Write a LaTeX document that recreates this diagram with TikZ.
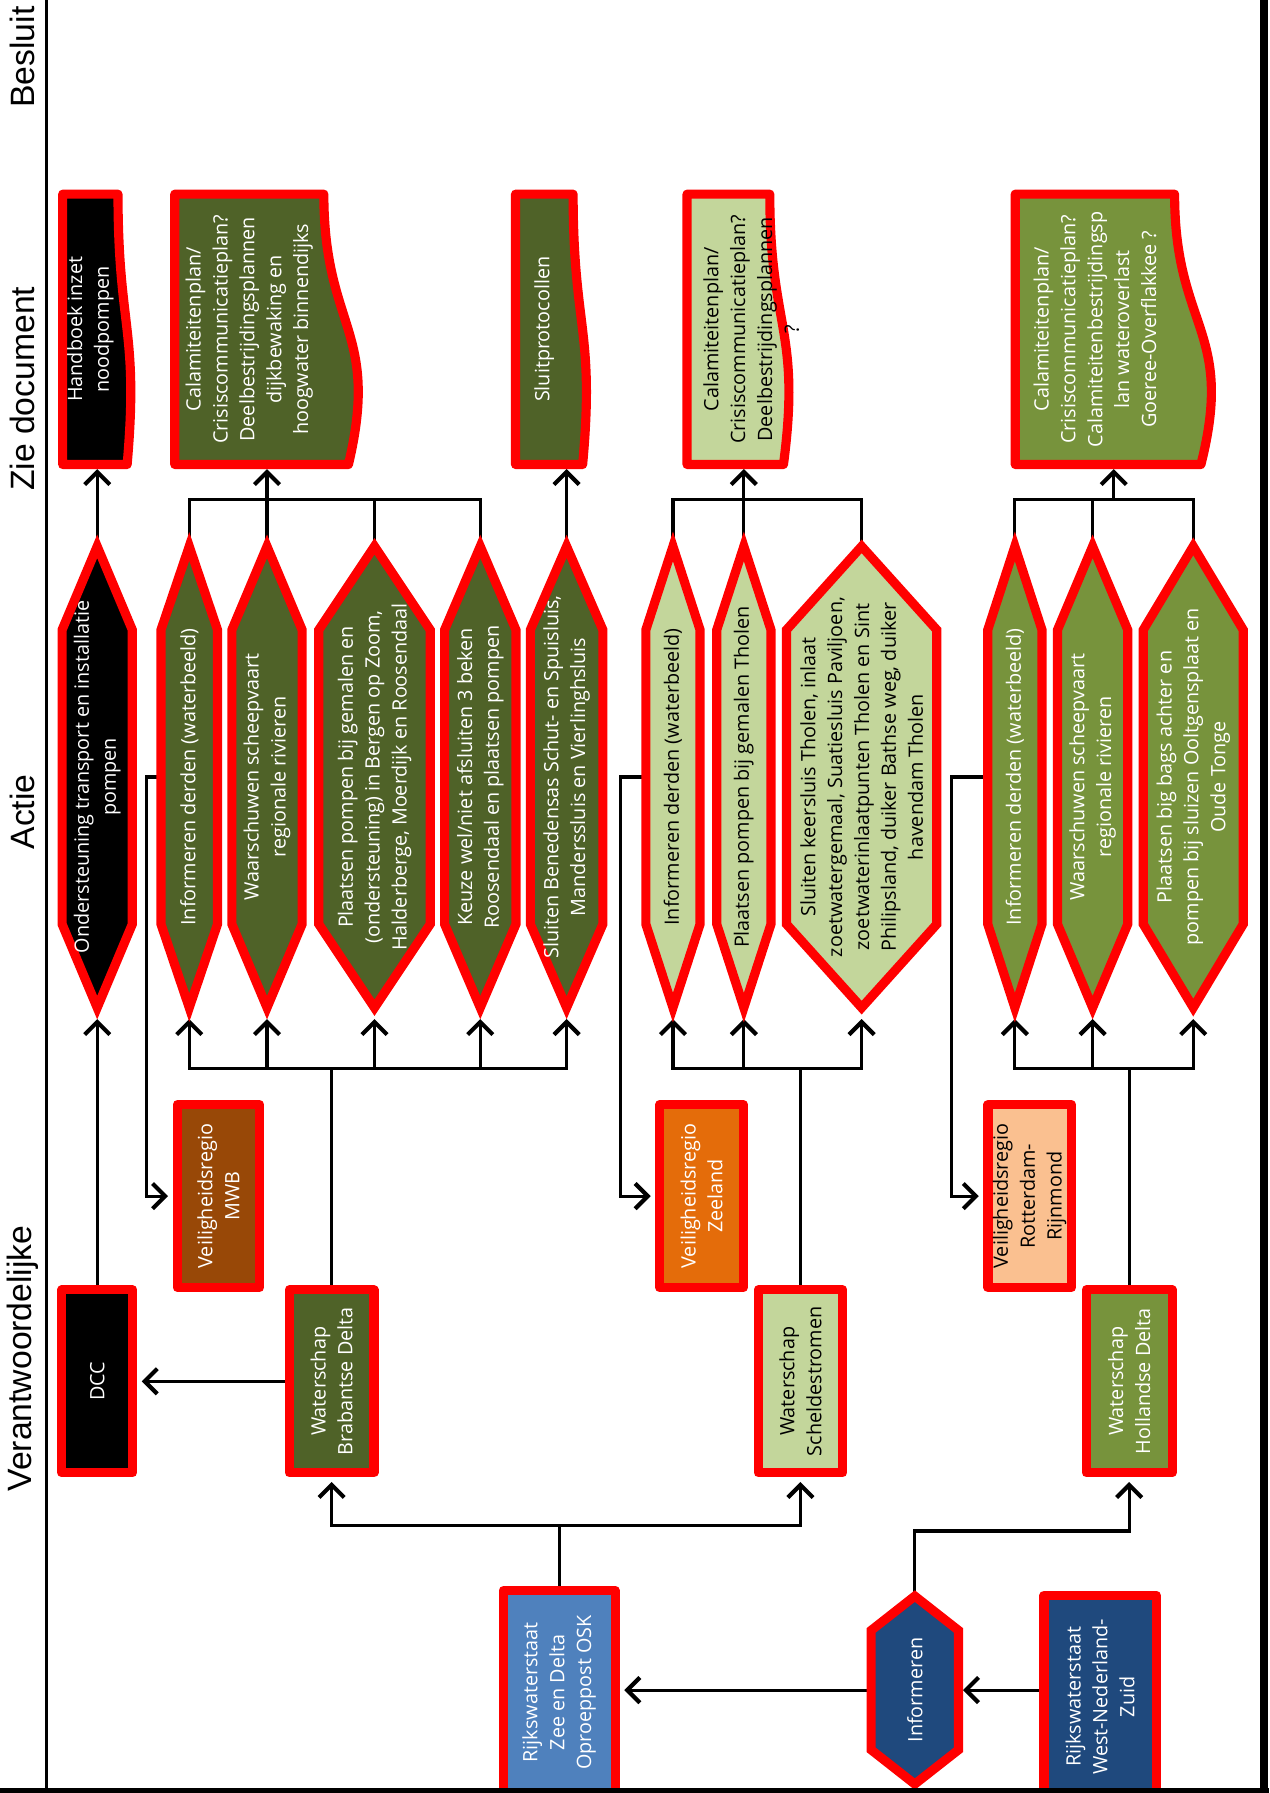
\documentclass[tikz,border=0pt]{standalone}
\usepackage{fontspec}
\setmainfont{Open Sans}
\newfontfamily\kopfont{Liberation Sans}
\usetikzlibrary{calc, backgrounds, arrows.meta}

\definecolor{rood}{HTML}{FF0000}
\definecolor{donkerolijf}{HTML}{4F6228}
\definecolor{olijf}{HTML}{77933C}
\definecolor{lichtgroen}{HTML}{C3D69B}
\definecolor{bruin}{HTML}{984807}
\definecolor{oranje}{HTML}{E46C0A}
\definecolor{perzik}{HTML}{FAC090}
\definecolor{rwsblauw}{HTML}{4F81BD}
\definecolor{donkerblauw}{HTML}{1F497D}

\newcommand{\vakfont}{\fontsize{17.3}{23.5}\selectfont}

\begin{document}
\begin{tikzpicture}[
    x=1pt, y=-1pt,
    every node/.style={inner sep=0pt, align=center, rotate=90},
    kop/.style={font=\kopfont\fontsize{29.5}{34}\selectfont},
    zeshoek/.style={minimum width=403pt, minimum height=#1, font=\vakfont, text=white},
    document/.style={minimum width=236pt, minimum height=#1, font=\vakfont, text=white},
    blok/.style={draw=rood, line width=8pt, line join=round, minimum width=160pt, minimum height=#1, font=\vakfont, text=white},
    rand/.style={draw=rood, line width=8pt},
    lijn/.style={line width=2.8pt},
    pijl/.style={lijn, shorten >=4pt, -{Straight Barb[length=11pt, width=22pt, line width=3.6pt]}}
  ]
  \useasboundingbox (0,0) rectangle (1110,1568);

  % ---------------- Kolomkoppen ----------------
  \node (kopBesluit) [kop] at (20,50) {Besluit};
  \node (kopDocument) [kop] at (20,340) {Zie document};
  \node (kopActie) [kop] at (20,710) {Actie};
  \node (kopVerantw) [kop] at (20,1188) {Verantwoordelijke};

  % ---------------- Zie document ----------------
  \node (d1) [document=48pt] at (79,288) {Handboek inzet\\noodpompen};
  \node (d2) [document=130pt] at (218,288) {Calamiteitenplan/\\Crisiscommunicatieplan?\\Deelbestrijdingsplannen\\dijkbewaking en\\hoogwater binnendijks};
  \node (d3) [document=50pt] at (476,288) {Sluitprotocollen};
  \node (d4) [document=72pt] at (637,288) {};
  \node (d4t) [font=\vakfont] at (657,288) {Calamiteitenplan/\\Crisiscommunicatieplan?\\Deelbestrijdingsplannen\\?};
  \node (d5) [document=139pt] at (957.5,288) {Calamiteitenplan/\\Crisiscommunicatieplan?\\Calamiteitenbestrijdingsp\\lan wateroverlast\\Goeree-Overflakkee ?};

  % ---------------- Acties ----------------
  \node (h1) [zeshoek=61pt] at (85,679.5) {Ondersteuning transport en installatie\\pompen};
  \node (h2) [zeshoek=49pt] at (165.5,679.5) {Informeren derden (waterbeeld)};
  \node (h3) [zeshoek=61pt] at (233.5,679.5) {Waarschuwen scheepvaart\\regionale rivieren};
  \node (h4) [zeshoek=97pt] at (327.5,679.5) {Plaatsen pompen bij gemalen en\\(ondersteuning) in Bergen op Zoom,\\Halderberge, Moerdijk en Roosendaal};
  \node (h5) [zeshoek=62pt] at (420,679.5) {Keuze wel/niet afsluiten 3 beken\\Roosendaal en plaatsen pompen};
  \node (h6) [zeshoek=63pt] at (495.5,679.5) {Sluiten Benedensas Schut- en Spuisluis,\\Manderssluis en Vierlinghsluis};
  \node (h7) [zeshoek=47pt, text=black] at (588.5,679.5) {Informeren derden (waterbeeld)};
  \node (h8) [zeshoek=47pt, text=black] at (650.5,679.5) {Plaatsen pompen bij gemalen Tholen};
  \node (h9) [zeshoek=131pt, text=black] at (753.5,679.5) {Sluiten keersluis Tholen, inlaat\\zoetwatergemaal, Suatiesluis Paviljoen,\\zoetwaterinlaatpunten Tholen en Sint\\Philipsland, duiker Bathse weg, duiker\\havendam Tholen};
  \node (h10) [zeshoek=47pt] at (887.5,679.5) {Informeren derden (waterbeeld)};
  \node (h11) [zeshoek=61pt] at (955.5,679.5) {Waarschuwen scheepvaart\\regionale rivieren};
  \node (h12) [zeshoek=87pt] at (1043.5,679.5) {Plaatsen big bags achter en\\pompen bij sluizen Ooltgensplaat en\\Oude Tonge};

  % ---------------- Verantwoordelijken ----------------
  \node (dcc) [blok=62pt, fill=black] at (85,1208) {DCC};
  \node (vrmwb) [blok=72pt, fill=bruin] at (191,1046) {Veiligheidsregio\\MWB};
  \node (wbd) [blok=74pt, fill=donkerolijf] at (290,1208) {Waterschap\\Brabantse Delta};
  \node (vrzee) [blok=73pt, fill=oranje] at (613.5,1046) {Veiligheidsregio\\Zeeland};
  \node (wss) [blok=74pt, fill=lichtgroen, text=black] at (700,1208) {Waterschap\\Scheldestromen};
  \node (vrrr) [blok=73pt, fill=perzik, text=black] at (900.5,1046) {Veiligheidsregio\\Rotterdam-\\Rijnmond};
  \node (whd) [blok=75pt, fill=olijf] at (987.5,1208) {Waterschap\\Hollandse Delta};
  \node (rwszd) [blok=98pt, fill=rwsblauw, minimum width=178pt] at (489,1480) {Rijkswaterstaat\\Zee en Delta\\Oproeppost OSK};
  \node (inf) [zeshoek=76pt, minimum width=164pt] at (800,1478) {Informeren};
  \node (rwswnz) [blok=98pt, fill=donkerblauw, minimum width=178pt] at (962,1484) {Rijkswaterstaat\\West-Nederland-\\Zuid};

  % ---------------- Verbindingen (onder de vormen) ----------------
  \begin{scope}[on background layer]
    % Brabantse Delta
    \draw[pijl, shorten >=10pt] (dcc.east) -- (h1.west);
    \draw[pijl] (h1.east) -- (h1.east |- d1.west);
    \draw[pijl] (wbd.north) -- (wbd.north -| dcc.south);
    \foreach \n in {h2,h3,h4,h5,h6}
      \draw[pijl, shorten >=10pt] (wbd.east) |- ([yshift=-53pt]\n.west) -- (\n.west);
    \foreach \n in {h2,h3,h4,h5}
      \draw[lijn] (\n.east) |- ([yshift=41pt]h3.east);
    \draw[pijl] ([yshift=41pt]h3.east) -- (h3.east |- d2.west);
    \draw[pijl] (h6.east) -- (h6.east |- d3.west);
    \draw[pijl] (h2.north) -- ++(-13,0) |- (vrmwb.north);

    % Scheldestromen
    \foreach \n in {h7,h8,h9}
      \draw[pijl, shorten >=10pt] (wss.east) |- ([yshift=-53pt]\n.west) -- (\n.west);
    \foreach \n in {h7,h8,h9}
      \draw[lijn] (\n.east) |- ([yshift=41pt]h8.east);
    \draw[pijl] ([yshift=41pt]h8.east) -- (h8.east |- d4.west);
    \draw[pijl] (h7.north) -- ++(-22,0) |- (vrzee.north);

    % Hollandse Delta
    \foreach \n in {h10,h11,h12}
      \draw[pijl, shorten >=10pt] (whd.east) |- ([yshift=-53pt]\n.west) -- (\n.west);
    \coordinate (tak3) at (974,437);
    \foreach \n in {h10,h11,h12}
      \draw[lijn] (\n.east) |- (tak3);
    \draw[pijl] (tak3) -- (tak3 |- d5.west);
    \draw[pijl] (h10.north) -- ++(-32,0) |- (vrrr.north);

    % Rijkswaterstaat
    \draw[pijl] (rwszd.east) -- ++(0,-53) -| (wbd.west);
    \draw[pijl] (rwszd.east) -- ++(0,-53) -| (wss.west);
    \draw[pijl] (inf.east) -- ++(0,-57) -| (whd.west);
    \draw[pijl] (inf.north) -- (inf.north -| rwszd.south);
    \draw[pijl] (rwswnz.north |- inf.south) -- (inf.south);
  \end{scope}

  % ---------------- Vormen (zeshoeken en documenten) ----------------
  \begin{scope}[on background layer]
    \foreach \n/\kl/\punt in {h1/black/73, h2/donkerolijf/73, h3/donkerolijf/73, h4/donkerolijf/73, h5/donkerolijf/73, h6/donkerolijf/73, h7/lichtgroen/73, h8/lichtgroen/73, h9/lichtgroen/73, h10/olijf/73, h11/olijf/73, h12/olijf/73, inf/donkerblauw/30}
      \draw[rand, fill=\kl] (\n.east) -- ([yshift=-\punt pt]\n.north east) -- ([yshift=\punt pt]\n.north west) -- (\n.west) -- ([yshift=\punt pt]\n.south west) -- ([yshift=-\punt pt]\n.south east) -- cycle;
    \foreach \n/\kl in {d1/black, d2/donkerolijf, d3/donkerolijf, d4/lichtgroen, d5/olijf}
      \draw[rand, line join=round, fill=\kl] (\n.north west) -- (\n.north east) -- (\n.south east) .. controls (\n.south) and ($(\n.north)!1.38!(\n.south)$) .. ($(\n.north west)!1.165!(\n.south west)$) -- cycle;
  \end{scope}

  % kader
  \draw[line width=2.5pt] (41,0) -- (41,1568);
  \draw[line width=7pt] (1105,0) -- (1105,1568);
  \draw[line width=5pt] (0,1566) -- (1110,1566);
\end{tikzpicture}
\end{document}
